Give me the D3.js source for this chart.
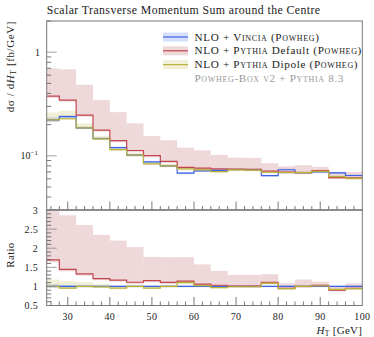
<!DOCTYPE html>
<html>
<head>
<meta charset="utf-8">
<script src="https://cdn.jsdelivr.net/npm/d3@7"></script>
<style>
  body { margin: 0; background: #fff; }
  svg text { font-family: "Liberation Serif", "DejaVu Serif", serif; fill: #222; }
</style>
</head>
<body>
<svg id="chart" width="374" height="337"></svg>
<script>
// bin edges in GeV
const edges = [25, 28, 32, 36, 40, 44, 48, 52, 56, 60, 64, 68, 72, 76, 80, 84, 88, 92, 96, 100];

// NLO + Vincia (reference)
const vincia   = [0.222, 0.239, 0.186, 0.147, 0.120, 0.1015, 0.0874, 0.0800, 0.0680, 0.0717, 0.0725, 0.0738, 0.0735, 0.0643, 0.0734, 0.0689, 0.0700, 0.0686, 0.0646];
const vinciaLo = [0.212, 0.231, 0.181, 0.143, 0.117, 0.0990, 0.0853, 0.0781, 0.0664, 0.0700, 0.0708, 0.0721, 0.0718, 0.0628, 0.0717, 0.0673, 0.0684, 0.0670, 0.0631];
const vinciaHi = [0.236, 0.248, 0.192, 0.151, 0.123, 0.1040, 0.0895, 0.0819, 0.0696, 0.0734, 0.0742, 0.0755, 0.0752, 0.0658, 0.0751, 0.0705, 0.0716, 0.0702, 0.0661];

// NLO + Pythia Default
const pyDef   = [0.376, 0.345, 0.247, 0.177, 0.140, 0.1125, 0.1005, 0.0885, 0.0775, 0.0760, 0.0747, 0.0745, 0.0742, 0.0713, 0.0697, 0.0689, 0.0721, 0.0617, 0.0614];
const pyDefLo = [0.362, 0.333, 0.238, 0.171, 0.135, 0.108, 0.097, 0.085, 0.075, 0.073, 0.072, 0.072, 0.0715, 0.069, 0.067, 0.0665, 0.0695, 0.0595, 0.059];
const pyDefHi = [0.697, 0.684, 0.485, 0.345, 0.264, 0.206, 0.155, 0.141, 0.120, 0.113, 0.102, 0.096, 0.0955, 0.0849, 0.0793, 0.0813, 0.0784, 0.0693, 0.0698];

// NLO + Pythia Dipole
const pyDip   = [0.222, 0.228, 0.186, 0.1455, 0.1146, 0.1015, 0.0835, 0.0800, 0.0748, 0.0731, 0.0703, 0.0731, 0.0728, 0.0694, 0.0690, 0.0689, 0.0707, 0.0631, 0.0607];
const pyDipLo = [0.214, 0.222, 0.181, 0.141, 0.111, 0.0985, 0.0815, 0.0775, 0.0725, 0.0708, 0.0685, 0.0712, 0.0708, 0.0674, 0.0672, 0.0670, 0.0690, 0.0615, 0.0590];
const pyDipHi = [0.262, 0.272, 0.206, 0.156, 0.121, 0.1060, 0.0865, 0.0835, 0.0775, 0.0752, 0.0722, 0.0750, 0.0748, 0.0712, 0.0708, 0.0708, 0.0725, 0.0648, 0.0625];

const xTicks = [30, 40, 50, 60, 70, 80, 90, 100];
const ratioTicks = [0.5, 1, 1.5, 2, 2.5, 3];

const series = [
  { name: "vincia", c: vincia, lo: vinciaLo, hi: vinciaHi, line: "#3f63e6", band: "rgba(70,110,235,0.22)" },
  { name: "pydef", c: pyDef, lo: pyDefLo, hi: pyDefHi, line: "#c0454c", band: "rgba(185,90,100,0.24)" },
  { name: "pydip", c: pyDip, lo: pyDipLo, hi: pyDipHi, line: "#b9b23c", band: "rgba(190,180,70,0.22)" }
];

const svg = d3.select("#chart");
const L = 46.7, R = 362.3, T = 21, MB = 210, RB = 305.5;

const x = d3.scaleLinear().domain([25, 100]).range([L, R]);
const y = d3.scaleLog().domain([0.03, 2]).range([MB, T]);
const yr = d3.scaleLinear().domain([0.5, 3]).range([RB, MB]);

const defs = svg.append("defs");
defs.append("clipPath").attr("id", "clipMain").append("rect")
  .attr("x", L).attr("y", T).attr("width", R - L).attr("height", MB - T);
defs.append("clipPath").attr("id", "clipRatio").append("rect")
  .attr("x", L).attr("y", MB).attr("width", R - L).attr("height", RB - MB);

function stepPts(vals) {
  const pts = [];
  vals.forEach((v, i) => { pts.push([edges[i], v]); pts.push([edges[i + 1], v]); });
  return pts;
}

function drawPanel(g, ys, transform) {
  series.forEach(s => {
    const lo = transform(s.lo), hi = transform(s.hi);
    g.append("g").selectAll("rect").data(d3.range(edges.length - 1)).enter().append("rect")
      .attr("x", i => x(edges[i])).attr("width", i => x(edges[i + 1]) - x(edges[i]))
      .attr("y", i => ys(hi[i])).attr("height", i => ys(lo[i]) - ys(hi[i]))
      .attr("fill", s.band);
  });
  const line = d3.line().x(d => x(d[0])).y(d => ys(d[1]));
  series.forEach(s => {
    g.append("path").datum(stepPts(transform(s.c)))
      .attr("fill", "none").attr("stroke", s.line).attr("stroke-width", 1.2)
      .attr("d", line);
  });
}

// main panel
const gMain = svg.append("g").attr("clip-path", "url(#clipMain)");
drawPanel(gMain, y, v => v);

// ratio panel
const gRatio = svg.append("g").attr("clip-path", "url(#clipRatio)");
drawPanel(gRatio, yr, v => v.map((d, i) => d / vincia[i]));

// ticks
const tickCol = "#555";
const tk = svg.append("g").attr("stroke", tickCol).attr("stroke-width", 0.8);
// x ticks (main bottom and ratio bottom)
const xMinor = d3.range(26, 100, 2).filter(v => v % 10 !== 0);
[MB, RB].forEach(b => {
  tk.selectAll(null).data(xTicks.filter(v => v < 100)).enter().append("line")
    .attr("x1", d => x(d)).attr("x2", d => x(d)).attr("y1", b).attr("y2", b - 8.5);
  tk.selectAll(null).data(xMinor).enter().append("line")
    .attr("x1", d => x(d)).attr("x2", d => x(d)).attr("y1", b).attr("y2", b - 4);
});
// log y ticks
const logMajor = [0.1, 1];
const logMinor = [0.03, 0.04, 0.05, 0.06, 0.07, 0.08, 0.09, 0.2, 0.3, 0.4, 0.5, 0.6, 0.7, 0.8, 0.9, 2];
tk.selectAll(null).data(logMajor).enter().append("line")
  .attr("x1", L).attr("x2", L + 10).attr("y1", d => y(d)).attr("y2", d => y(d)).attr("stroke", "#888");
tk.selectAll(null).data(logMinor).enter().append("line")
  .attr("x1", L).attr("x2", L + 4.5).attr("y1", d => y(d)).attr("y2", d => y(d));
// ratio y ticks
const rMinor = d3.range(6, 30).map(v => v / 10).filter(v => Math.abs(v * 2 - Math.round(v * 2)) > 1e-6);
tk.selectAll(null).data(ratioTicks).enter().append("line")
  .attr("x1", L).attr("x2", L + 10).attr("y1", d => yr(d)).attr("y2", d => yr(d)).attr("stroke", "#888");
tk.selectAll(null).data(rMinor).enter().append("line")
  .attr("x1", L).attr("x2", L + 4.5).attr("y1", d => yr(d)).attr("y2", d => yr(d));

// frames
svg.append("rect").attr("x", L).attr("y", T).attr("width", R - L).attr("height", MB - T)
  .attr("fill", "none").attr("stroke", "#777").attr("stroke-width", 1);
svg.append("rect").attr("x", L).attr("y", MB).attr("width", R - L).attr("height", RB - MB)
  .attr("fill", "none").attr("stroke", "#777").attr("stroke-width", 1);
svg.append("line").attr("x1", L).attr("x2", R).attr("y1", MB).attr("y2", MB)
  .attr("stroke", "#888").attr("stroke-width", 1.6);

// tick labels
svg.append("text").attr("x", 40).attr("y", y(1) + 3.5).attr("text-anchor", "end")
  .attr("font-size", 10).text("1");
const t01 = svg.append("text").attr("x", 38).attr("y", y(0.1) + 3.5).attr("text-anchor", "end").attr("font-size", 10);
t01.append("tspan").text("10");
t01.append("tspan").attr("dy", -4).attr("font-size", 7).text("−1");

svg.append("g").selectAll("text").data(ratioTicks).enter().append("text")
  .attr("x", 38).attr("y", d => yr(d) + 3.5).attr("text-anchor", "end")
  .attr("font-size", 10).attr("letter-spacing", 0.3).text(d => d);

svg.append("g").selectAll("text").data(xTicks).enter().append("text")
  .attr("x", d => x(d)).attr("y", 319.5).attr("text-anchor", "middle")
  .attr("font-size", 10).attr("letter-spacing", 0.3).text(d => d);

// axis labels
const xl = svg.append("text").attr("x", R).attr("y", 333.5).attr("text-anchor", "end")
  .attr("font-size", 11).attr("letter-spacing", 0.3);
xl.append("tspan").attr("font-style", "italic").text("H");
xl.append("tspan").attr("font-size", 7.5).attr("dy", 2).text("T");
xl.append("tspan").attr("dy", -2).text(" [GeV]");

const yl = svg.append("text").attr("transform", "translate(13.5," + T + ") rotate(-90)")
  .attr("text-anchor", "end").attr("font-size", 11).attr("letter-spacing", 0.6);
yl.append("tspan").text("dσ / d");
yl.append("tspan").attr("font-style", "italic").text("H");
yl.append("tspan").attr("font-size", 7.5).attr("dy", 2).text("T");
yl.append("tspan").attr("dy", -2).text(" [fb/GeV]");

svg.append("text").attr("transform", "translate(13.5," + 255 + ") rotate(-90)")
  .attr("text-anchor", "middle").attr("font-size", 11).attr("letter-spacing", 0.3).text("Ratio");

// title
svg.append("text").attr("x", L).attr("y", 13.5).attr("font-size", 11.8).attr("letter-spacing", 0.42)
  .text("Scalar Transverse Momentum Sum around the Centre");

// legend
const legendRows = [
  { s: series[0], parts: [["NLO + ", false], ["Vincia", true], [" (", false], ["Powheg", true], [")", false]] },
  { s: series[1], parts: [["NLO + ", false], ["Pythia", true], [" Default (", false], ["Powheg", true], [")", false]] },
  { s: series[2], parts: [["NLO + ", false], ["Pythia", true], [" Dipole (", false], ["Powheg", true], [")", false]] }
];
const lg = svg.append("g");
legendRows.forEach((row, i) => {
  const yy = 37 + i * 13.8;
  lg.append("rect").attr("x", 163).attr("y", yy - 4.5).attr("width", 25).attr("height", 9).attr("fill", row.s.band);
  lg.append("line").attr("x1", 163).attr("x2", 188).attr("y1", yy).attr("y2", yy)
    .attr("stroke", row.s.line).attr("stroke-width", 1.2);
  const t = lg.append("text").attr("x", 194.5).attr("y", yy + 3.5).attr("font-size", 11.2)
    .attr("letter-spacing", 0.65);
  row.parts.forEach(p => {
    const ts = t.append("tspan").text(p[0]);
    if (p[1]) ts.attr("font-variant", "small-caps");
  });
});
const gt = lg.append("text").attr("x", 194.5).attr("y", 37 + 3 * 13.8 + 4).attr("font-size", 11.2)
  .attr("letter-spacing", 0.65).style("fill", "#999");
gt.append("tspan").attr("font-variant", "small-caps").text("Powheg-Box v2 + Pythia 8.3");
</script>
</body>
</html>
